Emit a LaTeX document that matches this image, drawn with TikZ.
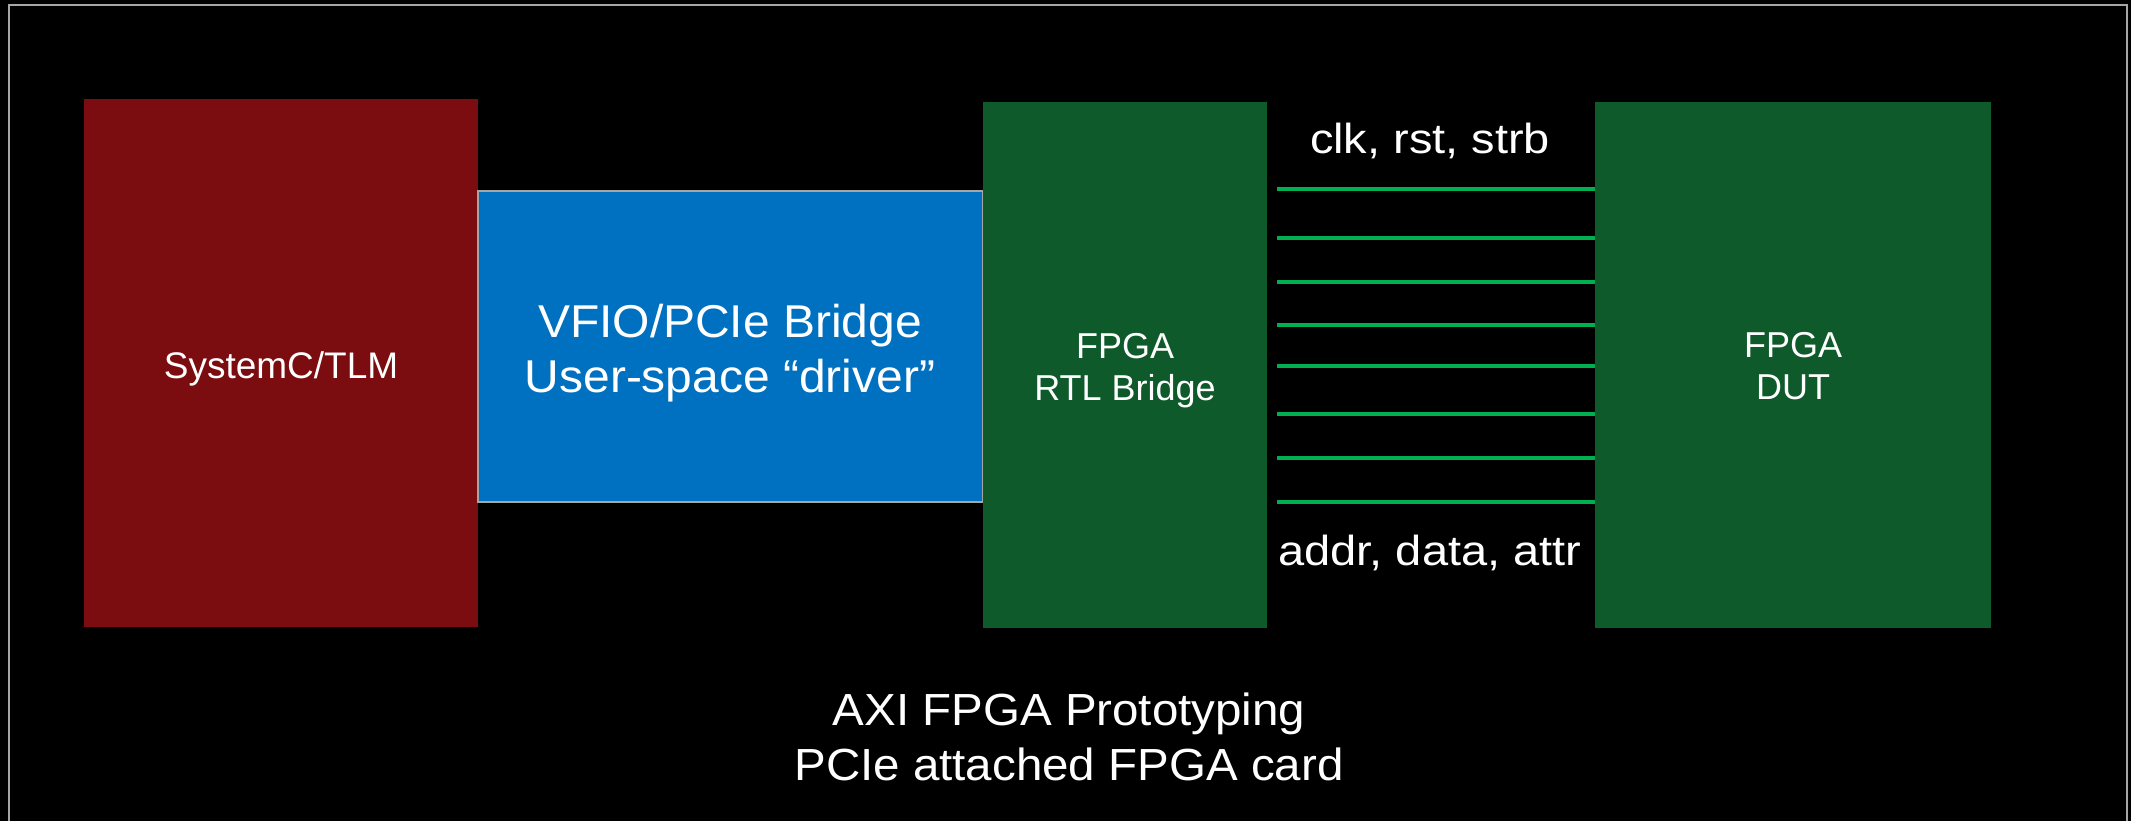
\documentclass[tikz,border=0pt]{standalone}
\usepackage{graphicx}
\usepackage{fontspec}
\setmainfont{Liberation Sans}
\definecolor{sysred}{RGB}{123,12,16}
\definecolor{pcieblue}{RGB}{0,112,192}
\definecolor{fpgagreen}{RGB}{14,90,42}
\definecolor{wiregreen}{RGB}{0,176,80}
\definecolor{framegray}{RGB}{166,166,166}
% slightly widened text line
\newcommand{\wideline}[2]{\scalebox{#1}[1]{#2}}
\tikzset{
  block/.style={anchor=north west, inner sep=0pt, outer sep=0pt},
  label/.style={text=white, align=center, anchor=base, inner sep=0pt},
  wire/.style={draw=wiregreen, line width=4pt},
}
\begin{document}
\begin{tikzpicture}[x=1pt, y=-1pt]
  % page and background
  \fill[black] (0,0) rectangle (2131,821);
  \useasboundingbox (0,0) rectangle (2131,821);
  \draw[framegray, line width=2pt] (9,840) -- (9,5) -- (2127,5) -- (2127,840);

  % blocks
  \node[block, fill=sysred, minimum width=394pt, minimum height=528pt] (sysc) at (84,99) {};
  \node[block, fill=pcieblue, draw=framegray, line width=1.2pt, minimum width=505pt, minimum height=311pt] (vfio) at (478,191) {};
  \node[block, fill=fpgagreen, minimum width=284pt, minimum height=526pt] (rtl) at (983,102) {};
  \node[block, fill=fpgagreen, minimum width=396pt, minimum height=526pt] (dut) at (1595,102) {};

  % block labels (anchored on the baseline of the last line)
  \node[label, font=\fontsize{37}{42}\selectfont] (sysclbl) at (281,378) {SystemC/TLM};
  \node[label, font=\fontsize{46}{55}\selectfont] (vfiolbl) at (730,392)
    {\wideline{1.043}{VFIO/PCIe Bridge}\\\wideline{1.043}{User-space “driver”}};
  \node[label, font=\fontsize{36}{42}\selectfont] (rtllbl) at (1125,400) {FPGA\\RTL Bridge};
  \node[label, font=\fontsize{36}{42}\selectfont] (dutlbl) at (1793,399) {FPGA\\DUT};

  % signal bundle between the bridge and the DUT
  \foreach \yy in {189,238,282,325,366,414,458,502} {
    \draw[wire] ([xshift=10pt]rtl.east |- 0,\yy) -- (dut.west |- 0,\yy);
  }
  \node[label, font=\fontsize{42}{48}\selectfont] (toplbl) at (1430,154) {\wideline{1.118}{clk, rst, strb}};
  \node[label, font=\fontsize{42}{48}\selectfont] (botlbl) at (1430,565) {\wideline{1.12}{addr, data, attr}};

  % caption
  \node[label, font=\fontsize{45}{55}\selectfont] (caption) at (1069,780)
    {\wideline{1.056}{AXI FPGA Prototyping}\\\wideline{1.056}{PCIe attached FPGA card}};
\end{tikzpicture}
\end{document}
